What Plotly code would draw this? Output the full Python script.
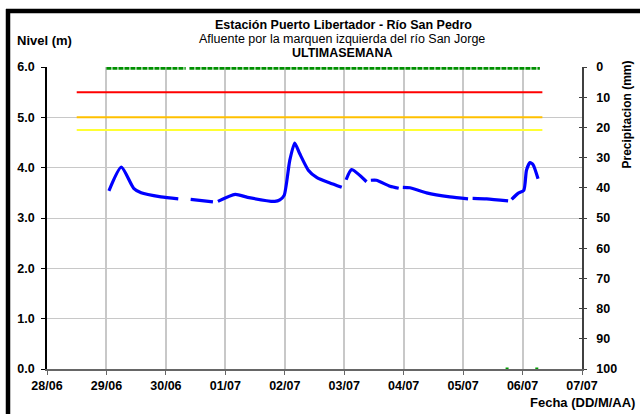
import plotly.graph_objects as go

# ---------------- data ----------------
nivel_fechas = [
    "2023-06-29 01:00", "2023-06-29 06:00", "2023-06-29 11:00", "2023-06-29 14:00",
    "2023-06-29 22:00", "2023-06-30 05:00", "2023-06-30 07:00",
    "2023-06-30 10:00", "2023-06-30 19:00", "2023-06-30 20:00",
    "2023-06-30 21:00", "2023-07-01 04:00", "2023-07-01 09:00", "2023-07-01 20:00",
    "2023-07-01 22:00", "2023-07-01 23:45", "2023-07-02 02:00", "2023-07-02 04:00",
    "2023-07-02 06:00", "2023-07-02 09:30", "2023-07-02 13:00", "2023-07-02 18:00",
    "2023-07-02 23:00", "2023-07-03 00:00",
    "2023-07-03 00:45", "2023-07-03 03:00", "2023-07-03 09:00", "2023-07-03 10:00",
    "2023-07-03 10:45", "2023-07-03 13:00", "2023-07-03 18:30", "2023-07-03 22:00",
    "2023-07-03 23:00",
    "2023-07-03 23:40", "2023-07-04 02:30", "2023-07-04 09:15", "2023-07-04 18:40",
    "2023-07-05 02:00", "2023-07-05 03:00",
    "2023-07-05 03:50", "2023-07-05 09:30", "2023-07-05 18:10", "2023-07-05 19:00",
    "2023-07-05 19:35", "2023-07-05 22:10", "2023-07-06 00:30", "2023-07-06 01:35",
    "2023-07-06 03:00", "2023-07-06 04:15", "2023-07-06 06:15",
]
nivel_valores = [
    3.54, 4.01, 3.59, 3.50,
    3.42, 3.38, None,
    3.37, 3.32, None,
    3.33, 3.47, 3.41, 3.33,
    3.36, 3.45, 4.14, 4.49,
    4.28, 3.95, 3.80, 3.70,
    3.61, None,
    3.76, 3.96, 3.72, None,
    3.75, 3.75, 3.63, 3.59,
    None,
    3.61, 3.60, 3.50, 3.42,
    3.38, None,
    3.39, 3.38, 3.34, None,
    3.37, 3.49, 3.55, 3.95,
    4.10, 4.06, 3.78,
]

umbral_fechas = ["2023-06-28 12:00", "2023-07-06 08:00"]
umbral_rojo = 5.5
umbral_naranja = 5.0
umbral_amarillo = 4.75

precip_fechas = ["2023-06-29 00:00", "2023-06-30 08:00", "2023-06-30 08:45",
                 "2023-06-30 09:30", "2023-07-06 07:00"]
precip_valores = [0, 0, None, 0, 0]

marcas_fechas = ["2023-07-05 17:45", "2023-07-06 05:45"]
marcas_valores = [0.0, 0.0]

x_rango = ["2023-06-28 00:00", "2023-07-07 00:00"]
nivel_rango = [0, 6]
precip_rango = [100, 0]

titulo_1 = "Estación Puerto Libertador - Río San Pedro"
titulo_2 = "Afluente por la marquen izquierda del río San Jorge"
titulo_3 = "ULTIMASEMANA"
eje_nivel = "Nivel (m)"
eje_precip = "Precipitacion (mm)"
eje_fecha = "Fecha (DD/M/AA)"

# ---------------- layout geometry ----------------
W, H = 640, 414
ML, MR, MT, MB = 47, 58, 67, 45
PW, PH = W - ML - MR, H - MT - MB


def px(x):
    return (x - ML) / PW


def py(y):
    return (H - MB - y) / PH


FONT = "Liberation Sans, Arial, sans-serif"
GRID = "#c8c8c8"

fig = go.Figure()

for val, col in [(umbral_rojo, "#ff0000"), (umbral_naranja, "#ffc000"),
                 (umbral_amarillo, "#ffff33")]:
    fig.add_trace(go.Scatter(x=umbral_fechas, y=[val, val], mode="lines",
                             line=dict(color=col, width=2), hoverinfo="skip",
                             showlegend=False))

fig.add_trace(go.Scatter(x=nivel_fechas, y=nivel_valores, mode="lines",
                         line=dict(color="#0000ff", width=3.2, shape="spline", smoothing=0.6),
                         connectgaps=False, showlegend=False))

fig.add_trace(go.Scatter(x=marcas_fechas, y=marcas_valores, mode="markers",
                         marker=dict(color="#009900", size=3, symbol="square"),
                         showlegend=False, cliponaxis=False))

fig.add_trace(go.Scatter(x=precip_fechas, y=precip_valores, yaxis="y2", mode="lines",
                         line=dict(color="#009000", width=5.5, dash="5px,1px"),
                         connectgaps=False, showlegend=False))

# invisible trace to show cross ticks on right axis
fig.add_trace(go.Scatter(x=[x_rango[0]], y=[50], yaxis="y3", mode="markers",
                         marker=dict(opacity=0), showlegend=False, hoverinfo="skip"))

fig.update_layout(
    width=W, height=H,
    margin=dict(l=ML, r=MR, t=MT, b=MB, pad=0),
    paper_bgcolor="white", plot_bgcolor="white",
    showlegend=False,
    font=dict(family=FONT, color="#000000"),
    xaxis=dict(type="date", range=x_rango, dtick=86400000, tick0=x_rango[0],
               tickformat="%d/%m", showgrid=True, gridcolor=GRID, gridwidth=2,
               showline=True, linecolor="#666666", linewidth=1.5,
               ticks="outside", ticklen=4, tickcolor="#666666",
               tickfont=dict(family=FONT, size=12.5, color="#000000", weight="bold"),
               zeroline=False, fixedrange=True),
    yaxis=dict(range=nivel_rango, dtick=1, tickformat=".1f", showgrid=True,
               gridcolor=GRID, gridwidth=1.2, showline=True, linecolor="#000000",
               linewidth=1.5, ticks="outside", ticklen=4, tickcolor="#000000",
               ticklabelstandoff=4,
               tickfont=dict(family=FONT, size=12.5, color="#000000", weight="bold"),
               zeroline=False),
    yaxis2=dict(range=precip_rango, dtick=10, overlaying="y", side="right",
                showgrid=False, showline=True, linecolor="#404040", linewidth=1.5,
                ticks="outside", ticklen=3, tickcolor="#404040",
                ticklabelstandoff=7,
                tickfont=dict(family=FONT, size=12.5, color="#000000", weight="bold"),
                zeroline=False),
    yaxis3=dict(range=precip_rango, dtick=10, overlaying="y", side="right",
                anchor="x", showgrid=False, showline=False, ticks="inside",
                ticklen=3, tickcolor="#404040", showticklabels=False, zeroline=False),
)

ann = [
    (titulo_1, 343, 25.5, 12.5, "bold"),
    (titulo_2, 342, 39.0, 12.5, "normal"),
    (titulo_3, 342, 52.5, 12.5, "bold"),
]
for txt, x, y, s, w in ann:
    fig.add_annotation(text=txt, x=px(x), y=py(y), xref="paper", yref="paper",
                       xanchor="center", yanchor="middle", showarrow=False,
                       borderpad=0,
                       font=dict(family=FONT, size=s, weight=w, color="#000000"))

fig.add_annotation(text=eje_nivel, x=px(15), y=py(40), xref="paper", yref="paper",
                   xanchor="left", yanchor="middle", showarrow=False,
                   font=dict(family=FONT, size=13, weight="bold", color="#000000"))
fig.add_annotation(text=eje_fecha, x=px(637), y=py(402), xref="paper", yref="paper",
                   xanchor="right", yanchor="middle", showarrow=False,
                   font=dict(family=FONT, size=13, weight="bold", color="#000000"))
fig.add_annotation(text=eje_precip, x=px(626.5), y=py(115), xref="paper", yref="paper",
                   xanchor="center", yanchor="middle", showarrow=False, textangle=-90,
                   font=dict(family=FONT, size=12, weight="bold", color="#000000"))

# outer chart border (partially cropped frame)
fig.add_shape(type="line", xref="paper", yref="paper",
              x0=px(8), x1=px(8), y0=py(9), y1=py(H + 10),
              line=dict(color="#000000", width=4.5))
fig.add_shape(type="line", xref="paper", yref="paper",
              x0=px(6), x1=px(W + 10), y0=py(11), y1=py(11),
              line=dict(color="#000000", width=4.5))

fig.write_html("out.html", config={"displayModeBar": False},
               post_script="document.body.style.margin='0';"
                           "document.body.style.overflow='hidden';")
